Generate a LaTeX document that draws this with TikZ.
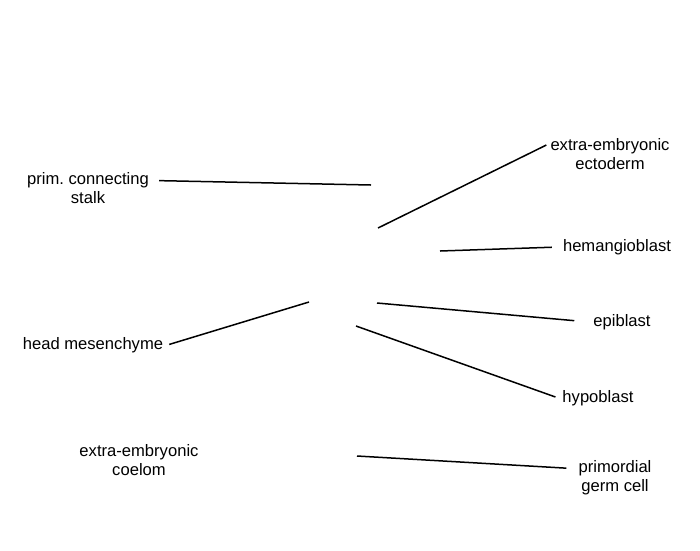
\documentclass[tikz,border=0pt]{standalone}
\usepackage{fontspec}
\setmainfont{Liberation Sans}
\frenchspacing
\usetikzlibrary{
  positioning
}
\tikzset{
  lbl/.style = {
    align=center, inner sep=4pt, font=\fontsize{16.6}{19}\selectfont
  },
  ln/.style = {
    draw=black, line width=1.5pt
  }
}

\begin{document}
\begin{tikzpicture}[x=1pt, y=-1pt]
  \useasboundingbox (0,0) rectangle (700,550);
  \path
    (88,188.5) node [lbl] (stalk) {prim. connecting\\stalk}
    (610,154) node [lbl] (ecto) {extra-embryonic\\ectoderm}
    (617,247) node [lbl] (hemangio) {hemangioblast}
    (622,322) node [lbl] (epi) {epiblast}
    (93,345) node [lbl] (mesen) {head mesenchyme}
    (598,398) node [lbl] (hypo) {hypoblast}
    (139,460) node [lbl] (coelom) {extra-embryonic\\coelom}
    (615,478) node [lbl] (germ) {primordial\\germ cell};
  \path
    (371,185) coordinate (stalk-pt)
      edge [ln, shorten >=6pt] (stalk.7)
    (378,228) coordinate (ecto-pt)
      edge [ln] (ecto.172)
    (440,251) coordinate (hemangio-pt)
      edge [ln, shorten >=7pt] (hemangio.west)
    (377,303) coordinate (epi-pt)
      edge [ln, shorten >=15pt] (epi.west)
    (309,302) coordinate (mesen-pt)
      edge [ln, shorten >=2pt] (mesen.east)
    (356,326) coordinate (hypo-pt)
      edge [ln, shorten >=3pt] (hypo.west)
    (357,456) coordinate (germ-pt)
      edge [ln, shorten >=8pt] (germ.167);
\end{tikzpicture}
\end{document}
